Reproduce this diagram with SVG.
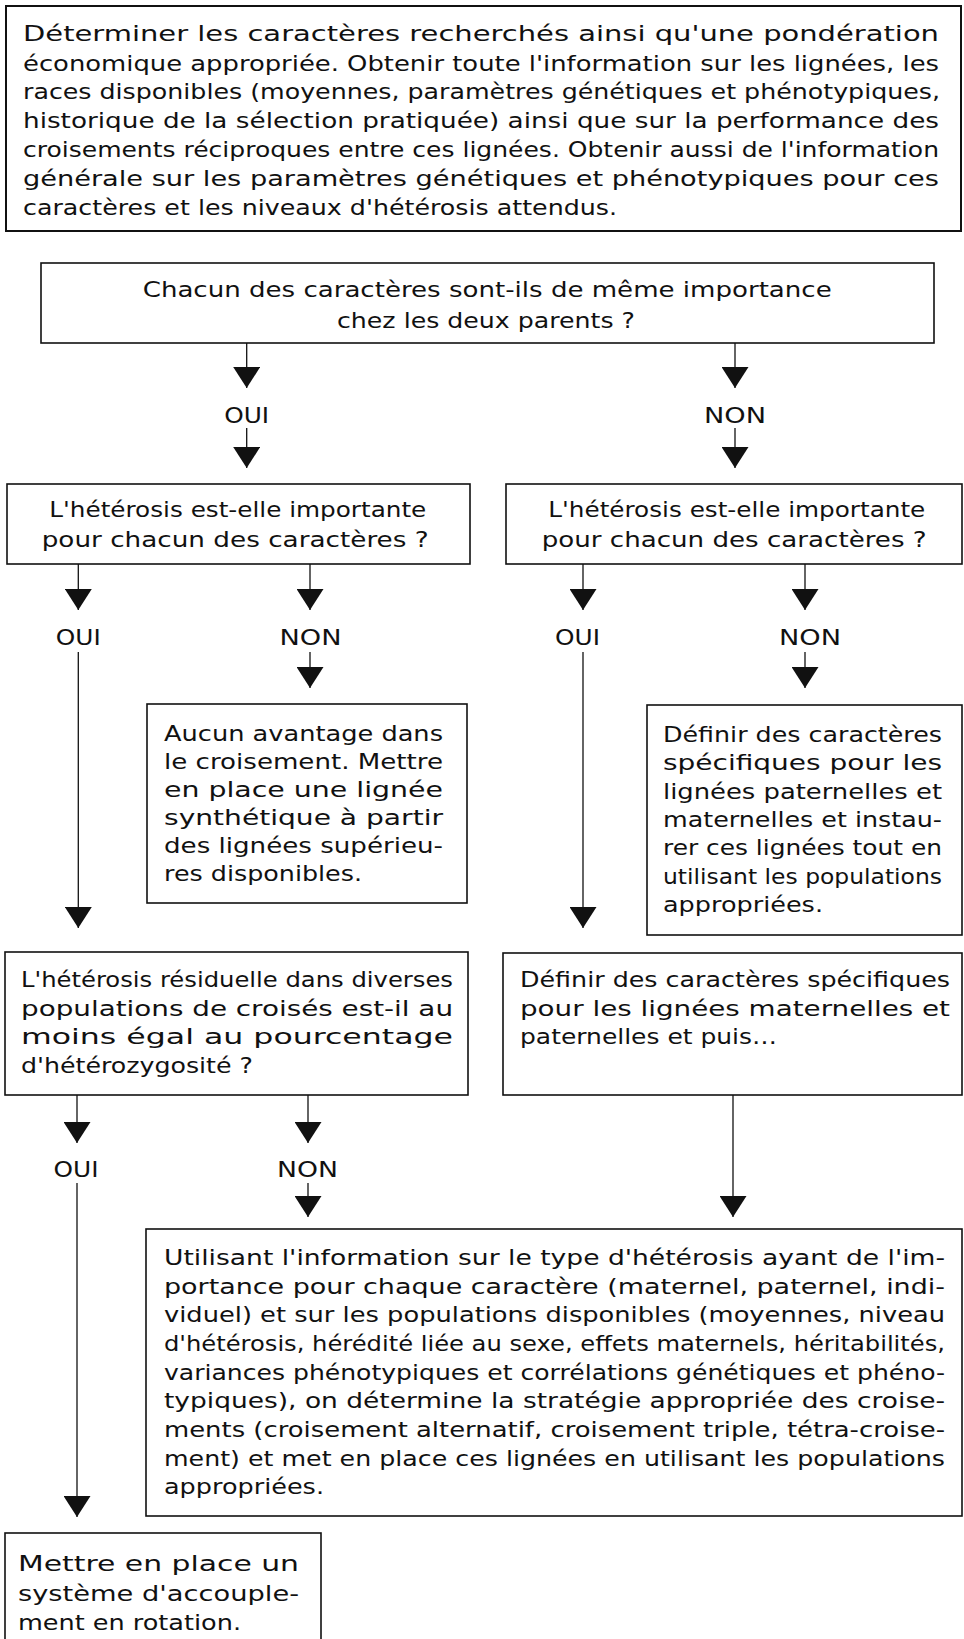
<svg xmlns="http://www.w3.org/2000/svg" width="964" height="1639" viewBox="0 0 964 1639">
<style>
.box{fill:#fff;stroke:#111;stroke-width:1.6}
.t{font-family:"DejaVu Sans","Liberation Sans",sans-serif;font-size:22px;fill:#111}
.c{stroke:#111;stroke-width:1.3;fill:none;marker-end:url(#ah)}
</style>
<defs>
<marker id="ah" markerUnits="userSpaceOnUse" viewBox="0 0 21 27" refX="21" refY="13.5" markerWidth="21" markerHeight="27" orient="auto">
<path d="M0,0 L21,13.5 L0,27 Z" fill="#111"/>
</marker>
</defs>
<rect width="964" height="1639" fill="#fff"/>

<g id="n-intro">
<rect class="box" x="6" y="6" width="955" height="225" style="stroke-width:2"/>
<text class="t" x="23" y="40.7" textLength="916" lengthAdjust="spacingAndGlyphs">Déterminer les caractères recherchés ainsi qu'une pondération</text>
<text class="t" x="23" y="70.5" textLength="916" lengthAdjust="spacingAndGlyphs">économique appropriée. Obtenir toute l'information sur les lignées, les</text>
<text class="t" x="23" y="99.3" textLength="917" lengthAdjust="spacingAndGlyphs">races disponibles (moyennes, paramètres génétiques et phénotypiques,</text>
<text class="t" x="23" y="128.3" textLength="916" lengthAdjust="spacingAndGlyphs">historique de la sélection pratiquée) ainsi que sur la performance des</text>
<text class="t" x="23" y="156.8" textLength="916" lengthAdjust="spacingAndGlyphs">croisements réciproques entre ces lignées. Obtenir aussi de l'information</text>
<text class="t" x="23" y="185.5" textLength="916" lengthAdjust="spacingAndGlyphs">générale sur les paramètres génétiques et phénotypiques pour ces</text>
<text class="t" x="23" y="214.5" textLength="594" lengthAdjust="spacingAndGlyphs">caractères et les niveaux d'hétérosis attendus.</text>
</g>

<g id="n-q1">
<rect class="box" x="41" y="263" width="893" height="80"/>
<text class="t" x="142.7" y="297" textLength="689" lengthAdjust="spacingAndGlyphs">Chacun des caractères sont-ils de même importance</text>
<text class="t" x="337" y="327.5" textLength="298" lengthAdjust="spacingAndGlyphs">chez les deux parents ?</text>
</g>

<g id="n-q2-oui">
<rect class="box" x="7" y="484" width="463" height="80"/>
<text class="t" x="49.3" y="516.7" textLength="377" lengthAdjust="spacingAndGlyphs">L'hétérosis est-elle importante</text>
<text class="t" x="41.7" y="546.7" textLength="387" lengthAdjust="spacingAndGlyphs">pour chacun des caractères ?</text>
</g>

<g id="n-q2-non">
<rect class="box" x="506" y="484" width="456" height="80"/>
<text class="t" x="548.3" y="516.7" textLength="377" lengthAdjust="spacingAndGlyphs">L'hétérosis est-elle importante</text>
<text class="t" x="541.7" y="546.7" textLength="385" lengthAdjust="spacingAndGlyphs">pour chacun des caractères ?</text>
</g>

<g id="n-aucun">
<rect class="box" x="147" y="704" width="320" height="199"/>
<text class="t" x="164" y="741" textLength="279" lengthAdjust="spacingAndGlyphs">Aucun avantage dans</text>
<text class="t" x="164" y="769" textLength="279" lengthAdjust="spacingAndGlyphs">le croisement. Mettre</text>
<text class="t" x="164" y="797" textLength="279" lengthAdjust="spacingAndGlyphs">en place une lignée</text>
<text class="t" x="164" y="825" textLength="279" lengthAdjust="spacingAndGlyphs">synthétique à partir</text>
<text class="t" x="164" y="853" textLength="279" lengthAdjust="spacingAndGlyphs">des lignées supérieu-</text>
<text class="t" x="164" y="881" textLength="198" lengthAdjust="spacingAndGlyphs">res disponibles.</text>
</g>

<g id="n-definir1">
<rect class="box" x="647" y="705" width="315" height="230"/>
<text class="t" x="663" y="742" textLength="279" lengthAdjust="spacingAndGlyphs">Définir des caractères</text>
<text class="t" x="663" y="770.3" textLength="279" lengthAdjust="spacingAndGlyphs">spécifiques pour les</text>
<text class="t" x="663" y="798.7" textLength="279" lengthAdjust="spacingAndGlyphs">lignées paternelles et</text>
<text class="t" x="663" y="827" textLength="279" lengthAdjust="spacingAndGlyphs">maternelles et instau-</text>
<text class="t" x="663" y="855.3" textLength="279" lengthAdjust="spacingAndGlyphs">rer ces lignées tout en</text>
<text class="t" x="663" y="883.7" textLength="279" lengthAdjust="spacingAndGlyphs">utilisant les populations</text>
<text class="t" x="663" y="912" textLength="160" lengthAdjust="spacingAndGlyphs">appropriées.</text>
</g>

<g id="n-residuelle">
<rect class="box" x="5" y="952" width="463" height="143"/>
<text class="t" x="21" y="987" textLength="432" lengthAdjust="spacingAndGlyphs">L'hétérosis résiduelle dans diverses</text>
<text class="t" x="21" y="1015.5" textLength="432" lengthAdjust="spacingAndGlyphs">populations de croisés est-il au</text>
<text class="t" x="21" y="1044" textLength="432" lengthAdjust="spacingAndGlyphs">moins égal au pourcentage</text>
<text class="t" x="21" y="1072.5" textLength="232" lengthAdjust="spacingAndGlyphs">d'hétérozygosité ?</text>
</g>

<g id="n-definir2">
<rect class="box" x="503" y="953" width="459" height="142"/>
<text class="t" x="520" y="987" textLength="430" lengthAdjust="spacingAndGlyphs">Définir des caractères spécifiques</text>
<text class="t" x="520" y="1015.5" textLength="430" lengthAdjust="spacingAndGlyphs">pour les lignées maternelles et</text>
<text class="t" x="520" y="1044" textLength="257" lengthAdjust="spacingAndGlyphs">paternelles et puis…</text>
</g>

<g id="n-strategie">
<rect class="box" x="146" y="1229" width="816" height="287"/>
<text class="t" x="164" y="1265" textLength="781" lengthAdjust="spacingAndGlyphs">Utilisant l'information sur le type d'hétérosis ayant de l'im-</text>
<text class="t" x="164" y="1293.7" textLength="781" lengthAdjust="spacingAndGlyphs">portance pour chaque caractère (maternel, paternel, indi-</text>
<text class="t" x="164" y="1322.3" textLength="781" lengthAdjust="spacingAndGlyphs">viduel) et sur les populations disponibles (moyennes, niveau</text>
<text class="t" x="164" y="1351" textLength="781" lengthAdjust="spacingAndGlyphs">d'hétérosis, hérédité liée au sexe, effets maternels, héritabilités,</text>
<text class="t" x="164" y="1379.7" textLength="781" lengthAdjust="spacingAndGlyphs">variances phénotypiques et corrélations génétiques et phéno-</text>
<text class="t" x="164" y="1408.3" textLength="781" lengthAdjust="spacingAndGlyphs">typiques), on détermine la stratégie appropriée des croise-</text>
<text class="t" x="164" y="1437" textLength="781" lengthAdjust="spacingAndGlyphs">ments (croisement alternatif, croisement triple, tétra-croise-</text>
<text class="t" x="164" y="1465.7" textLength="781" lengthAdjust="spacingAndGlyphs">ment) et met en place ces lignées en utilisant les populations</text>
<text class="t" x="164" y="1494.3" textLength="160" lengthAdjust="spacingAndGlyphs">appropriées.</text>
</g>

<g id="n-rotation">
<rect class="box" x="5" y="1533" width="316" height="115"/>
<text class="t" x="18" y="1571" textLength="281" lengthAdjust="spacingAndGlyphs">Mettre en place un</text>
<text class="t" x="18" y="1601" textLength="281" lengthAdjust="spacingAndGlyphs">système d'accouple-</text>
<text class="t" x="18" y="1630" textLength="223" lengthAdjust="spacingAndGlyphs">ment en rotation.</text>
</g>

<g id="connectors">
<line class="c" x1="246.7" y1="343" x2="246.7" y2="388"/>
<line class="c" x1="246.7" y1="428" x2="246.7" y2="468"/>
<line class="c" x1="735" y1="343" x2="735" y2="388"/>
<line class="c" x1="735" y1="428" x2="735" y2="468"/>
<line class="c" x1="78.3" y1="564" x2="78.3" y2="610"/>
<line class="c" x1="78.3" y1="652" x2="78.3" y2="928"/>
<line class="c" x1="310" y1="564" x2="310" y2="610"/>
<line class="c" x1="310" y1="652" x2="310" y2="688"/>
<line class="c" x1="583" y1="564" x2="583" y2="610"/>
<line class="c" x1="583" y1="652" x2="583" y2="928"/>
<line class="c" x1="805" y1="564" x2="805" y2="610"/>
<line class="c" x1="805" y1="652" x2="805" y2="688"/>
<line class="c" x1="77" y1="1095" x2="77" y2="1143"/>
<line class="c" x1="77" y1="1183" x2="77" y2="1517"/>
<line class="c" x1="308" y1="1095" x2="308" y2="1143"/>
<line class="c" x1="308" y1="1183" x2="308" y2="1217"/>
<line class="c" x1="733" y1="1095" x2="733" y2="1217"/>
<text class="t" x="224.2" y="423" textLength="45" lengthAdjust="spacingAndGlyphs">OUI</text>
<text class="t" x="704" y="423" textLength="62" lengthAdjust="spacingAndGlyphs">NON</text>
<text class="t" x="55.8" y="645" textLength="45" lengthAdjust="spacingAndGlyphs">OUI</text>
<text class="t" x="279.5" y="645" textLength="62" lengthAdjust="spacingAndGlyphs">NON</text>
<text class="t" x="555" y="645" textLength="45" lengthAdjust="spacingAndGlyphs">OUI</text>
<text class="t" x="779" y="645" textLength="62" lengthAdjust="spacingAndGlyphs">NON</text>
<text class="t" x="53.5" y="1177" textLength="45" lengthAdjust="spacingAndGlyphs">OUI</text>
<text class="t" x="277" y="1177" textLength="61" lengthAdjust="spacingAndGlyphs">NON</text>
</g>
</svg>
